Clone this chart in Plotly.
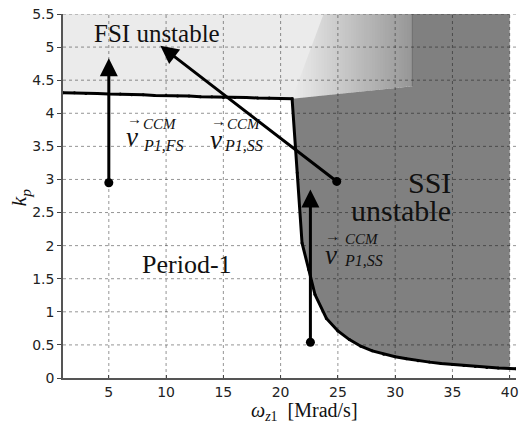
import plotly.graph_objects as go

# ---- data ----
# stability boundary (k_p vs omega_z1)
bound_x = [1, 2, 3, 4, 5, 6, 7, 8, 9, 10, 11, 12, 13, 14, 15, 16, 17, 18, 19, 20, 21.0,
           21.45, 21.87, 22.45, 23.0, 24.0, 25.0, 26.0, 27, 28, 29, 30, 31, 32, 33, 34,
           35, 36, 37, 38, 39, 40, 40.55]
bound_y = [4.31, 4.31, 4.30, 4.30, 4.29, 4.29, 4.28, 4.28, 4.27, 4.27, 4.26, 4.26, 4.25,
           4.25, 4.24, 4.24, 4.24, 4.23, 4.23, 4.22, 4.22,
           3.10, 2.04, 1.64, 1.26, 0.90, 0.71, 0.58, 0.48, 0.41, 0.36, 0.32, 0.29, 0.26,
           0.24, 0.22, 0.205, 0.19, 0.175, 0.16, 0.152, 0.145, 0.14]

# gradient (transition) region corners
grad_x = [21.0, 23.75, 31.5, 31.5]
grad_y = [4.22, 5.5, 5.5, 4.41]

# arrows: tail (dot) -> tip
arrow_tail_x = [5.0, 24.9, 22.6]
arrow_tail_y = [2.95, 2.97, 0.54]
arrow_tip_x = [5.0, 9.5, 22.6]
arrow_tip_y = [4.83, 5.02, 2.85]

x_ticks = [5, 10, 15, 20, 25, 30, 35, 40]
y_ticks = [0, 0.5, 1, 1.5, 2, 2.5, 3, 3.5, 4, 4.5, 5, 5.5]
y_tick_text = ["0", "0.5", "1", "1.5", "2", "2.5", "3", "3.5", "4", "4.5", "5", "5.5"]

XMIN, XMAX, YMIN, YMAX = 1, 40.55, 0, 5.5
LIGHT = "#ebebeb"
DARK = "#808080"
SERIF = "Liberation Serif, serif"

fig = go.Figure()
shapes = []

def path_from(xs, ys):
    s = "M %g,%g " % (xs[0], ys[0])
    for a, b in zip(xs[1:], ys[1:]):
        s += "L %g,%g " % (a, b)
    return s + "Z"

# gradient strips
gx0, gx1 = grad_x[0], grad_x[3]
gyb0, gyb1 = grad_y[0], grad_y[3]
n = 45
for i in range(n):
    a = gx0 + (gx1 - gx0) * i / n
    b = gx0 + (gx1 - gx0) * (i + 1) / n
    bb = min(b + 0.12, gx1)
    ya = gyb0 + (gyb1 - gyb0) * (a - gx0) / (gx1 - gx0)
    yb = gyb0 + (gyb1 - gyb0) * (bb - gx0) / (gx1 - gx0)
    t = (i + 0.5) / n
    c = int(round(236 - t * (236 - 150)))
    col = "rgb(%d,%d,%d)" % (c, c, c)
    shapes.append(dict(type="path", xref="x", yref="y", layer="below",
                       path=path_from([a, bb, bb, a], [ya, yb, YMAX, YMAX]),
                       fillcolor=col, line=dict(width=0)))

# light region (FSI unstable)
hx = [x for x in bound_x if x <= 21.0]
hy = bound_y[:len(hx)]
lx = hx + [grad_x[1], XMIN]
ly = hy + [YMAX, YMAX]
shapes.append(dict(type="path", xref="x", yref="y", layer="below",
                   path=path_from(lx, ly), fillcolor=LIGHT, line=dict(width=0)))

# dark region (SSI unstable)
cx = [x for x in bound_x if 21.0 <= x <= 40]
cy = [y for x, y in zip(bound_x, bound_y) if 21.0 <= x <= 40]
dx = [grad_x[0], grad_x[3], grad_x[2], 40] + cx[::-1]
dy = [grad_y[0], grad_y[3], YMAX, YMAX] + cy[::-1]
shapes.append(dict(type="path", xref="x", yref="y", layer="below",
                   path=path_from(dx, dy), fillcolor=DARK, line=dict(width=0)))
# thin edge line of gradient block
shapes.append(dict(type="line", xref="x", yref="y", layer="below",
                   x0=grad_x[2], x1=grad_x[3], y0=grad_y[2], y1=grad_y[3],
                   line=dict(color="#6a6a6a", width=1)))

# dotted grid drawn as shapes between the filled regions and the traces
GRIDC = "rgba(0,0,0,0.42)"
for xv in x_ticks:
    shapes.append(dict(type="line", xref="x", yref="y", layer="between",
                       x0=xv, x1=xv, y0=YMIN, y1=YMAX,
                       line=dict(color=GRIDC, width=1, dash="dot")))
for yv in y_ticks[1:]:
    shapes.append(dict(type="line", xref="x", yref="y", layer="between",
                       x0=XMIN, x1=XMAX, y0=yv, y1=yv,
                       line=dict(color=GRIDC, width=1, dash="dot")))

# boundary line
fig.add_trace(go.Scatter(x=bound_x, y=bound_y, mode="lines+markers",
                         line=dict(color="black", width=3),
                         marker=dict(color="black", size=3),
                         showlegend=False, hoverinfo="skip"))
# arrow tails
fig.add_trace(go.Scatter(x=arrow_tail_x, y=arrow_tail_y, mode="markers",
                         marker=dict(color="black", size=9),
                         showlegend=False, hoverinfo="skip"))

ann = []
for tx, ty, hx_, hy_ in zip(arrow_tail_x, arrow_tail_y, arrow_tip_x, arrow_tip_y):
    ann.append(dict(x=hx_, y=hy_, ax=tx, ay=ty, xref="x", yref="y", axref="x", ayref="y",
                    text="", showarrow=True, arrowhead=2, arrowsize=1.2, arrowwidth=3,
                    arrowcolor="black", standoff=0))

def txt(x, y, s, size, **kw):
    d = dict(x=x, y=y, xref="x", yref="y", text=s, showarrow=False,
             font=dict(family=SERIF, size=size, color="#111"),
             xanchor="center", yanchor="middle")
    d.update(kw)
    ann.append(d)

txt(9.2, 5.21, "FSI unstable", 25)
txt(11.8, 1.71, "Period-1", 26)
txt(35.05, 2.95, "SSI", 30, xanchor="right")
txt(35.05, 2.53, "unstable", 30, xanchor="right")

# vector labels
vec_x = [7.05, 14.4, 24.4]
vec_y = [3.64, 3.60, 1.86]
sup_x = [9.45, 16.8, 27.1]
sup_y = [3.84, 3.84, 2.1]
sub_x = [9.8, 16.75, 27.25]
sub_y = [3.52, 3.52, 1.78]
sub_t = ["P1,FS", "P1,SS", "P1,SS"]
for i in range(3):
    txt(vec_x[i], vec_y[i], "<i>v</i>", 27)
    txt(vec_x[i] + 0.15, vec_y[i] + 0.28, "\u2192", 15)
    txt(sup_x[i], sup_y[i], "<i>CCM</i>", 15)
    txt(sub_x[i], sub_y[i], "<i>%s</i>" % sub_t[i], 16)

# axis titles
ann.append(dict(x=-0.094, y=0.497, xref="paper", yref="paper", textangle=-90,
                xanchor="center", yanchor="middle",
                text="<i>k<sub>p</sub></i>", showarrow=False,
                font=dict(family=SERIF, size=22, color="#111")))
ann.append(dict(x=0.533, y=-0.093, xref="paper", yref="paper",
                xanchor="center", yanchor="middle",
                text="<i>\u03c9<sub>z</sub></i><sub>1</sub>  [Mrad/s]", showarrow=False,
                font=dict(family=SERIF, size=20, color="#111")))

fig.update_layout(
    width=523, height=431,
    margin=dict(l=63, r=4, t=14, b=53),
    plot_bgcolor="white", paper_bgcolor="white",
    shapes=shapes, annotations=ann, showlegend=False,
    xaxis=dict(range=[XMIN, XMAX], tickvals=x_ticks, ticks="inside", ticklen=3,
               tickcolor="#444", showline=True, linecolor="#555", linewidth=1.5,
               showgrid=False, zeroline=False,
               tickfont=dict(family="DejaVu Sans", size=14, color="#222")),
    yaxis=dict(range=[YMIN, YMAX], tickvals=y_ticks, ticktext=y_tick_text, ticks="outside",
               ticklen=4, tickcolor="#444", showline=True, linecolor="#555", linewidth=1.5,
               showgrid=False, zeroline=False,
               tickfont=dict(family="DejaVu Sans", size=14, color="#222")),
)
fig.write_html("out.html")
